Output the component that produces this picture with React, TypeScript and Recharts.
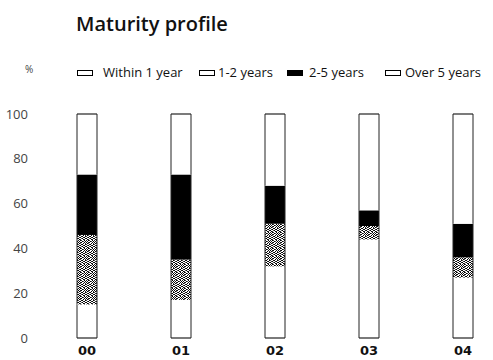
import React from 'react';
import { BarChart, Bar, XAxis, YAxis, Legend } from 'recharts';

const years = ['00', '01', '02', '03', '04'];
const within1Year = [15, 17, 32, 44, 27];
const oneToTwoYears = [31, 18, 19, 6, 9];
const twoToFiveYears = [27, 38, 17, 7, 15];
const overFiveYears = [27, 27, 32, 43, 49];
const yTicks = [0, 20, 40, 60, 80, 100];
const seriesNames = ['Within 1 year', '1-2 years', '2-5 years', 'Over 5 years'];
const seriesKeys = ['within1', 'oneToTwo', 'twoToFive', 'overFive'];

const data = years.map((year, i) => ({
  year,
  within1: within1Year[i],
  oneToTwo: oneToTwoYears[i],
  twoToFive: twoToFiveYears[i],
  overFive: overFiveYears[i],
}));

const fills = ['#ffffff', 'url(#stipple)', '#000000', '#ffffff'];

const makeShape = (idx: number) => (props: any) => {
  const { x, y, width, height, fill } = props;
  const stroke = '#222';
  return (
    <g>
      <rect x={x} y={y} width={width} height={height} fill={fill} stroke="none" />
      <line x1={x} y1={y} x2={x} y2={y + height} stroke={stroke} strokeWidth={1} />
      <line x1={x + width} y1={y} x2={x + width} y2={y + height} stroke={stroke} strokeWidth={1} />
      {idx === 0 && <line x1={x} y1={y + height} x2={x + width} y2={y + height} stroke={stroke} strokeWidth={1.2} />}
      {idx === 3 && <line x1={x} y1={y} x2={x + width} y2={y} stroke={stroke} strokeWidth={1.2} />}
    </g>
  );
};

const iconX = [77, 199, 287, 385];
const textX = [103, 218, 309, 405];

const LegendContent = () => (
  <svg width={493} height={24} style={{ display: 'block' }}>
    <text x={25} y={13} fontFamily="Open Sans" fontSize={10} fill="#444">%</text>
    {seriesNames.map((name, i) => (
      <g key={name}>
        <rect
          x={iconX[i] + 0.5}
          y={10.5}
          width={15}
          height={5}
          fill={i === 2 ? '#000' : '#fff'}
          stroke="#000"
          strokeWidth={1}
        />
        <text x={textX[i]} y={16.5} fontFamily="Open Sans" fontSize={13} fill="#111">
          {name}
        </text>
      </g>
    ))}
  </svg>
);

const dots: [number, number, string][] = [
  [0, 0, '#000'], [1, 0, '#333'], [4, 0, '#000'], [6, 0, '#222'],
  [2, 1, '#000'], [3, 1, '#444'], [5, 1, '#000'], [7, 1, '#111'],
  [0, 2, '#222'], [1, 2, '#000'], [4, 2, '#111'], [6, 2, '#000'],
  [3, 3, '#000'], [5, 3, '#333'], [7, 3, '#000'], [0, 3, '#555'],
  [1, 4, '#111'], [2, 4, '#000'], [5, 4, '#000'], [6, 4, '#444'],
  [0, 5, '#000'], [3, 5, '#222'], [4, 5, '#000'], [7, 5, '#333'],
  [2, 6, '#000'], [5, 6, '#111'], [6, 6, '#000'], [1, 6, '#555'],
  [0, 7, '#333'], [3, 7, '#000'], [4, 7, '#222'], [7, 7, '#000'],
];

export default function App() {
  return (
    <div style={{ position: 'absolute', left: 0, top: 0, width: 493, height: 360, background: '#fff', overflow: 'hidden' }}>
      <svg width={0} height={0} style={{ position: 'absolute' }}>
        <defs>
          <pattern id="stipple" width={8} height={8} patternUnits="userSpaceOnUse">
            <rect width={8} height={8} fill="#ffffff" />
            {dots.map(([dx, dy, c], k) => (
              <rect key={k} x={dx} y={dy} width={1} height={1} fill={c} />
            ))}
          </pattern>
        </defs>
      </svg>
      <div
        style={{
          position: 'absolute',
          left: 76,
          top: 10,
          fontFamily: 'Open Sans',
          fontWeight: 600,
          fontSize: 20,
          color: '#111',
          lineHeight: '28px',
        }}
      >
        Maturity profile
      </div>
      <BarChart
        width={493}
        height={360}
        data={data}
        margin={{ top: 90, right: -17, bottom: 0, left: 0 }}
        barSize={20}
      >
        <XAxis
          dataKey="year"
          axisLine={false}
          tickLine={false}
          height={22}
          tickMargin={2}
          tick={{ fontFamily: 'DejaVu Sans', fontWeight: 700, fontSize: 13, fill: '#111' }}
        />
        <YAxis
          width={40}
          domain={[0, 100]}
          ticks={yTicks}
          axisLine={false}
          tickLine={false}
          tickMargin={6}
          tick={{ fontFamily: 'Open Sans', fontSize: 13, fill: '#444' }}
        />
        <Legend
          verticalAlign="top"
          content={<LegendContent />}
          wrapperStyle={{ position: 'absolute', top: 60, left: 0, width: 493 }}
        />
        {seriesKeys.map((key, i) => (
          <Bar
            key={key}
            dataKey={key}
            name={seriesNames[i]}
            stackId="a"
            fill={fills[i]}
            shape={makeShape(i)}
            isAnimationActive={false}
          />
        ))}
      </BarChart>
    </div>
  );
}
